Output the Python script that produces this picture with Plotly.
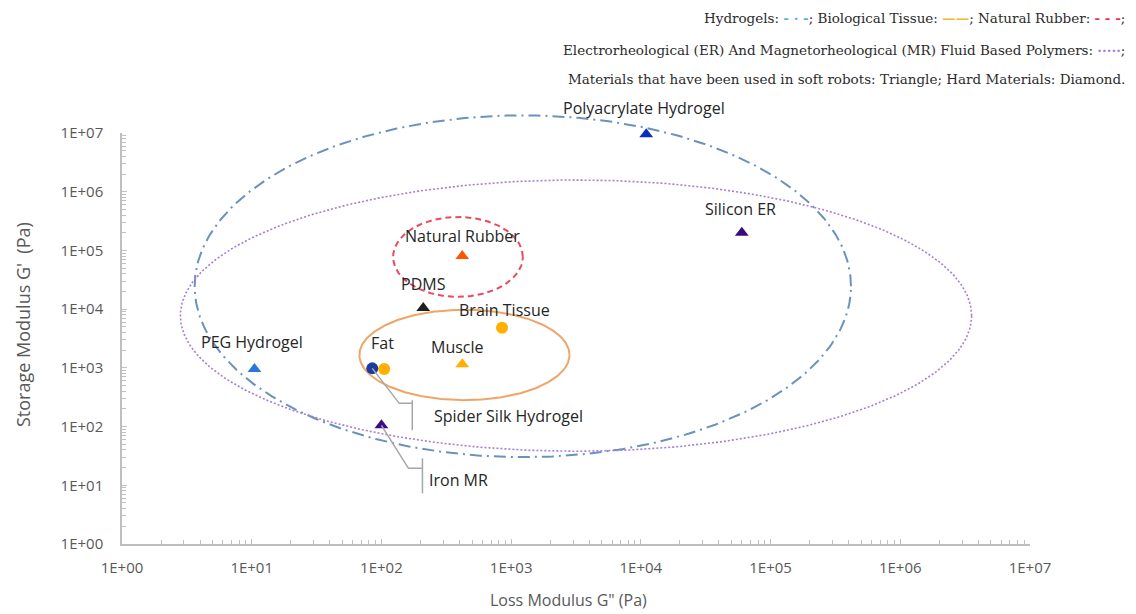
import numpy as np
import plotly.graph_objects as go

# ---------------- data ----------------
materials = ["Polyacrylate Hydrogel", "Silicon ER", "Natural Rubber", "PDMS", "Brain Tissue",
             "Muscle", "Fat", "Spider Silk Hydrogel", "PEG Hydrogel", "Iron MR"]
loss_modulus = [1.1e4, 6.0e4, 4.2e2, 2.1e2, 8.5e2, 4.2e2, 1.05e2, 8.5e1, 1.05e1, 1.0e2]
storage_modulus = [9.5e6, 2.0e5, 8.0e4, 1.05e4, 4.8e3, 1.15e3, 9.6e2, 9.8e2, 9.6e2, 1.05e2]

groups = ["Hydrogels", "Biological Tissue", "Natural Rubber",
          "ER and MR Fluid Based Polymers"]
group_center_logx = [3.09, 2.64, 2.59, 3.50]
group_center_logy = [4.39, 3.22, 4.89, 3.89]
group_halfwidth_decades = [2.53, 0.81, 0.50, 3.05]
group_halfheight_decades = [2.91, 0.77, 0.68, 2.31]

tick_vals = [1e0, 1e1, 1e2, 1e3, 1e4, 1e5, 1e6, 1e7]
tick_text = ["1E+00", "1E+01", "1E+02", "1E+03", "1E+04", "1E+05", "1E+06", "1E+07"]

x_title = 'Loss Modulus G" (Pa)'
y_title = "Storage Modulus G'  (Pa)"

# ---------------- styles ----------------
marker_symbols = ["triangle-up", "triangle-up", "triangle-up", "triangle-up", "circle",
                  "triangle-up", "circle", "circle", "triangle-up", "triangle-up"]
marker_colors = ["#0b2fb8", "#3a0c7a", "#ff5400", "#1e1e1e", "#ffb000",
                 "#ffb000", "#ffb000", "#1a3c9e", "#2a78d6", "#3c0a88"]
group_colors = ["#6b92b9", "#f0a468", "#e84a5f", "#a67dd8"]
group_dash = ["12px,5px,2px,5px", "solid", "6px,4px", "2px,2px"]
group_width = [2, 2, 2, 1.6]

# label offsets (pixels, text centre relative to each point)
label_dx = [-2, -1, 0, 0, 3, -5, -2, 0, -2, 0]
label_dy = [26, 24, 20, 24, 18, 17, 26, 0, 27, 0]

# plot geometry (figure pixels)
PLOT_W = 908
PLOT_H_AXIS = 411      # visible axis height
PLOT_H_EXT = 444       # extended drawing area height (lets ellipses overflow the top)
Y_EXT_TOP = 7 * PLOT_H_EXT / PLOT_H_AXIS


def px_to_paper(xp, yp):
    return (xp - 122) / PLOT_W, (544 - yp) / PLOT_H_EXT


fig = go.Figure()

# invisible anchor trace for the visible axes
fig.add_trace(go.Scatter(x=[], y=[], xaxis="x", yaxis="y", showlegend=False))

theta = np.linspace(0, 2 * np.pi, 400)
for g, cx, cy, a, b, col, dsh, w in zip(groups, group_center_logx, group_center_logy,
                                       group_halfwidth_decades, group_halfheight_decades,
                                       group_colors, group_dash, group_width):
    fig.add_trace(go.Scatter(
        x=10 ** (cx + a * np.cos(theta)), y=10 ** (cy + b * np.sin(theta)),
        xaxis="x2", yaxis="y2",
        mode="lines", line=dict(color=col, width=w, dash=dsh),
        name=g, hoverinfo="skip", showlegend=False))

fig.add_trace(go.Scatter(
    x=loss_modulus, y=storage_modulus, mode="markers", text=materials,
    xaxis="x2", yaxis="y2",
    marker=dict(symbol=marker_symbols, color=marker_colors, size=12,
                line=dict(width=0)),
    cliponaxis=False,
    showlegend=False, hovertemplate="%{text}<extra></extra>"))

label_font = dict(family="Open Sans", size=16, color="#262626")
annotations = []
for i, m in enumerate(materials):
    if m in ("Spider Silk Hydrogel", "Iron MR"):
        continue
    annotations.append(dict(
        x=np.log10(loss_modulus[i]), y=np.log10(storage_modulus[i]), xref="x2", yref="y2",
        text=m, showarrow=False, xshift=label_dx[i], yshift=label_dy[i],
        font=label_font, xanchor="center", yanchor="middle"))

# callout labels with leader lines
callouts = {"Spider Silk Hydrogel": dict(lx=27, ly=-35, bx=40, b0=-32, b1=-62, tx=60, ty=-48),
            "Iron MR": dict(lx=27, ly=-43, bx=41, b0=-33, b1=-68, tx=46, ty=-55)}
shapes = []
for m, c in callouts.items():
    i = materials.index(m)
    shapes.append(dict(
        type="path", xref="x", yref="y", xsizemode="pixel", ysizemode="pixel",
        xanchor=loss_modulus[i], yanchor=storage_modulus[i],
        path=f"M0,0 L{c['lx']},{c['ly']} L{c['bx']},{c['ly']} M{c['bx']},{c['b0']} L{c['bx']},{c['b1']}",
        line=dict(color="#a6a6a6", width=1.5)))
    annotations.append(dict(
        x=np.log10(loss_modulus[i]), y=np.log10(storage_modulus[i]), xref="x2", yref="y2",
        text=m, showarrow=False, xshift=c["tx"], yshift=c["ty"],
        font=label_font, xanchor="left", yanchor="middle"))

# top legend text
leg_font = dict(family="DejaVu Serif", size=13.5, color="#2b2b2b")
legend_lines = [
    ("Hydrogels: <span style='color:#4fb6dc'><b>- · -</b></span>; Biological Tissue: "
     "<span style='color:#f5b82e'><b>——</b></span>; Natural Rubber: "
     "<span style='color:#e8344a'><b>- - -</b></span>;", 18),
    ("Electrorheological (ER) And Magnetorheological (MR) Fluid Based Polymers: "
     "<span style='color:#a67dd8'><b>·····</b></span>;", 50),
    ("Materials that have been used in soft robots: Triangle; Hard Materials: Diamond.", 79),
]
for txt, ypx in legend_lines:
    px, py = px_to_paper(1127, ypx)
    annotations.append(dict(
        x=px, y=py, xref="paper", yref="paper",
        text=txt, showarrow=False, xanchor="right", yanchor="middle", font=leg_font))

# axis titles
tx, ty = px_to_paper(568, 600)
annotations.append(dict(x=tx, y=ty, xref="paper", yref="paper", text=x_title,
                        showarrow=False, xanchor="center", yanchor="middle",
                        font=dict(family="Open Sans", size=16, color="#595959")))
tx, ty = px_to_paper(23, 325)
annotations.append(dict(x=tx, y=ty, xref="paper", yref="paper", text=y_title,
                        showarrow=False, xanchor="center", yanchor="middle", textangle=-90,
                        font=dict(family="Open Sans", size=18, color="#595959")))

axis_common = dict(
    type="log", range=[0, 7], tickvals=tick_vals, ticktext=tick_text,
    showgrid=False, zeroline=False, showline=True, linecolor="#bfbfbf", linewidth=1.5,
    ticks="inside", ticklen=5, tickcolor="#bfbfbf",
    tickfont=dict(family="Open Sans", size=15, color="#595959"),
    minor=dict(ticks="inside", ticklen=4, tickcolor="#bfbfbf", dtick="D1", showgrid=False),
)

fig.update_layout(
    width=1136, height=614,
    margin=dict(l=114, r=114, t=92, b=78),
    paper_bgcolor="white", plot_bgcolor="rgba(0,0,0,0)",
    xaxis=dict(axis_common, domain=[0, 1], anchor="y", ticklabelstandoff=9),
    yaxis=dict(axis_common, domain=[0, PLOT_H_AXIS / PLOT_H_EXT], anchor="x",
               ticklabelstandoff=14),
    xaxis2=dict(type="log", range=[0, 7], domain=[0, 1], anchor="y2", visible=False),
    yaxis2=dict(type="log", range=[0, Y_EXT_TOP], domain=[0, 1], anchor="x2", visible=False),
    annotations=annotations, shapes=shapes,
    showlegend=False,
)

fig.write_html("out.html")
